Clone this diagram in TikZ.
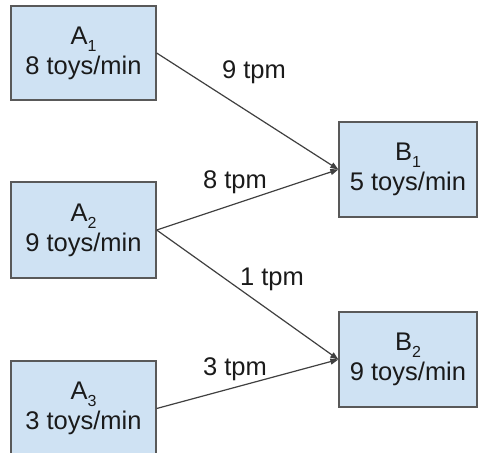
\documentclass[tikz,border=0pt]{standalone}
\usepackage{fontspec}
\setmainfont{Liberation Sans}
\usetikzlibrary{arrows.meta}
\definecolor{boxfill}{HTML}{CFE2F3}
\definecolor{boxline}{HTML}{595959}
\definecolor{edgecol}{HTML}{404040}
\definecolor{txt}{HTML}{1A1A1A}
\newcommand{\mysub}[1]{\raisebox{-7pt}{\fontsize{16}{16}\selectfont #1}}
\tikzset{
  box/.style={draw=boxline, fill=boxfill, line width=1.3pt, align=center,
    text=txt, font=\fontsize{25.5}{30}\selectfont, inner sep=0pt},
  flow/.style={draw=edgecol, line width=1.2pt, -{Triangle[length=8pt,width=6pt]}},
  lbl/.style={text=txt, font=\fontsize{25.5}{30}\selectfont, inner sep=0pt, anchor=base}
}
\begin{document}
\begin{tikzpicture}[x=1pt,y=-1pt]
\clip (0,0) rectangle (478,452);
\fill[white] (0,0) rectangle (478,452);
\node[box, minimum width=145pt, minimum height=94pt] (A1) at (83.5,53)
  {A\mysub{1}\\8 toys/min};
\node[box, minimum width=145pt, minimum height=96pt] (A2) at (83.5,230)
  {A\mysub{2}\\9 toys/min};
\node[box, minimum width=145pt, minimum height=95pt] (A3) at (83.5,408.5)
  {A\mysub{3}\\3 toys/min};
\node[box, minimum width=138pt, minimum height=95pt] (B1) at (408,169.5)
  {B\mysub{1}\\5 toys/min};
\node[box, minimum width=138pt, minimum height=95pt] (B2) at (408,359.5)
  {B\mysub{2}\\9 toys/min};
\draw[flow] (A1.east) -- (B1.west);
\draw[flow] (A2.east) -- (B1.west);
\draw[flow] (A2.east) -- (B2.west);
\draw[flow] (A3.east) -- (B2.west);
\node[lbl] (l1) at (254,78) {9 tpm};
\node[lbl] (l2) at (235,188) {8 tpm};
\node[lbl] (l3) at (272,285) {1 tpm};
\node[lbl] (l4) at (235,375) {3 tpm};
\end{tikzpicture}
\end{document}
